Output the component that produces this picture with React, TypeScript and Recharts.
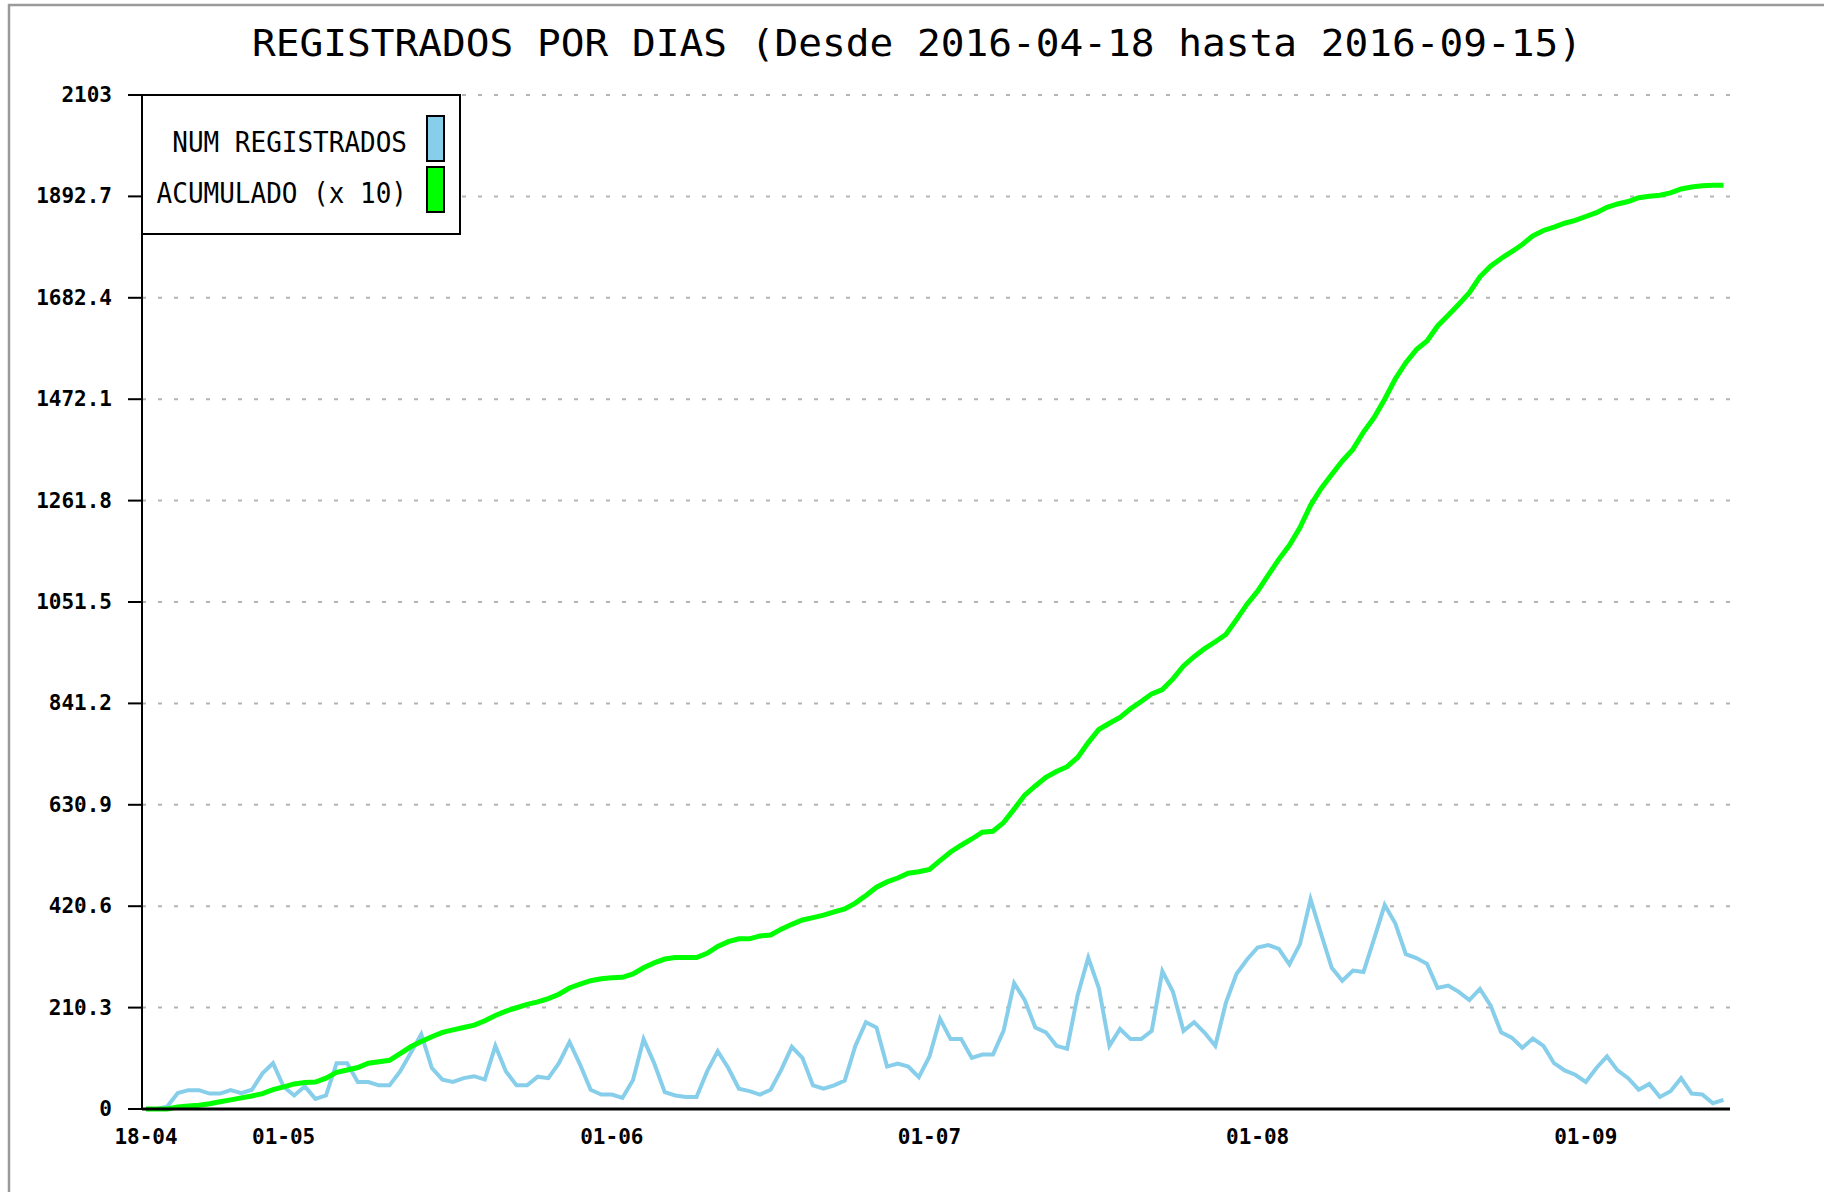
import React from 'react';
import { LineChart, Line, XAxis, YAxis, CartesianGrid } from 'recharts';

const titulo = 'REGISTRADOS POR DIAS (Desde 2016-04-18 hasta 2016-09-15)';
const serieNombres = ['NUM REGISTRADOS', 'ACUMULADO (x 10)'];
const serieColores = ['#87ceeb', '#00ff00'];

// one value per day, starting 2016-04-18
const numRegistrados = [
  0, 0, 5, 33, 39, 39, 32, 32, 39, 33,
  40, 74, 95, 46, 28, 47, 21, 28, 95, 95,
  56, 56, 49, 49, 78, 116, 155, 85, 61, 56,
  64, 68, 61, 131, 78, 49, 49, 67, 64, 95,
  139, 92, 40, 30, 30, 23, 60, 145, 95, 35,
  28, 25, 25, 78, 120, 85, 42, 37, 30, 40,
  81, 129, 106, 49, 42, 49, 59, 131, 180, 169,
  88, 94, 88, 66, 109, 187, 145, 145, 106, 113,
  113, 162, 261, 226, 169, 159, 131, 125, 236, 314,
  251, 131, 166, 145, 145, 162, 286, 243, 162, 180,
  158, 131, 220, 280, 310, 335, 340, 332, 300, 342,
  435, 363, 293, 266, 287, 284, 353, 423, 385, 321,
  313, 301, 251, 256, 243, 226, 249, 215, 159, 148,
  127, 146, 131, 95, 80, 71, 56, 85, 109, 80,
  64, 40, 52, 25, 37, 64, 32, 30, 12, 19,
];

const acumuladoX10 = [
  0, 0, 0, 4, 6, 8, 11, 15, 19, 23,
  27, 32, 40, 46, 52, 55, 56, 64, 76, 81,
  86, 95, 98, 101, 115, 129, 140, 150, 159, 164,
  169, 174, 183, 194, 203, 210, 217, 222, 229, 238,
  251, 259, 266, 270, 272, 273, 280, 293, 303, 311,
  314, 314, 314, 323, 337, 347, 353, 353, 359, 361,
  373, 383, 392, 397, 402, 409, 415, 427, 443, 460,
  471, 479, 489, 492, 497, 515, 533, 547, 560, 574,
  576, 594, 622, 651, 670, 688, 700, 710, 729, 760,
  787, 800, 812, 830, 845, 861, 870, 892, 919, 938,
  955, 969, 984, 1015, 1047, 1074, 1107, 1140, 1169, 1206,
  1252, 1287, 1316, 1344, 1368, 1404, 1434, 1472, 1514, 1548,
  1575, 1593, 1624, 1646, 1669, 1693, 1726, 1748, 1764, 1778,
  1793, 1811, 1822, 1829, 1837, 1843, 1851, 1859, 1870, 1877,
  1882, 1890, 1893, 1895, 1900, 1908, 1912, 1915, 1916, 1916,
];

const xTickDias = [0, 13, 44, 74, 105, 136];
const xTickEtiquetas = ['18-04', '01-05', '01-06', '01-07', '01-08', '01-09'];
const yTicks = [0, 210.3, 420.6, 630.9, 841.2, 1051.5, 1261.8, 1472.1, 1682.4, 1892.7, 2103];

const data = numRegistrados.map((v, i) => ({
  dia: i,
  registrados: v,
  acumulado: acumuladoX10[i],
}));

const MONO = '"DejaVu Sans Mono", "Liberation Mono", monospace';

const YTick = (props: any) => {
  const { x, y, payload } = props;
  return (
    <text x={x} y={y} textAnchor="end" dominantBaseline="central" fontFamily={MONO} fontWeight="bold" fontSize={21} fill="#000">
      {String(payload.value)}
    </text>
  );
};

const XTick = (props: any) => {
  const { x, y, payload } = props;
  const idx = xTickDias.indexOf(payload.value);
  return (
    <text x={x} y={y + 28} textAnchor="middle" dominantBaseline="central" fontFamily={MONO} fontWeight="bold" fontSize={21} fill="#000">
      {idx >= 0 ? xTickEtiquetas[idx] : ''}
    </text>
  );
};

export default function App() {
  return (
    <div style={{ position: 'fixed', left: 0, top: 0, width: 1824, height: 1192, overflow: 'hidden', background: '#fff' }}>
      <div style={{ position: 'absolute', left: 0, top: 0 }}>
        <LineChart width={1824} height={1192} data={data} margin={{ top: 95, right: 94, bottom: 33, left: 0 }}>
          <CartesianGrid
            horizontal
            vertical={false}
            stroke="#b4b4b4"
            strokeWidth={2}
            strokeDasharray="4 12"
          />
          <XAxis
            dataKey="dia"
            type="number"
            domain={[-0.38, 149.62]}
            allowDataOverflow
            ticks={xTickDias}
            interval={0}
            height={50}
            tickSize={0}
            tickMargin={0}
            tickLine={false}
            axisLine={{ stroke: '#000', strokeWidth: 3 }}
            tick={<XTick />}
          />
          <YAxis
            type="number"
            domain={[0, 2103]}
            ticks={yTicks}
            interval={0}
            width={142}
            tickSize={14}
            tickMargin={16}
            tickLine={{ stroke: '#000', strokeWidth: 2 }}
            axisLine={{ stroke: '#000', strokeWidth: 2 }}
            tick={<YTick />}
          />
          <YAxis
            yAxisId="r"
            orientation="right"
            type="number"
            domain={[0, 2103]}
            width={0}
            tick={false}
            tickLine={false}
            axisLine={{ stroke: '#000', strokeWidth: 2.5 }}
          />
          <Line
            type="linear"
            dataKey="registrados"
            name={serieNombres[0]}
            stroke={serieColores[0]}
            strokeWidth={4}
            dot={false}
            isAnimationActive={false}
          />
          <Line
            type="linear"
            dataKey="acumulado"
            name={serieNombres[1]}
            stroke={serieColores[1]}
            strokeWidth={5}
            dot={false}
            isAnimationActive={false}
          />
        </LineChart>
      </div>
      <svg
        width={1824}
        height={1192}
        style={{ position: 'absolute', left: 0, top: 0, pointerEvents: 'none' }}
      >
        <line x1={8} y1={5} x2={1824} y2={5} stroke="#9a9a9a" strokeWidth={2.5} />
        <line x1={9} y1={4} x2={9} y2={1192} stroke="#9a9a9a" strokeWidth={2.5} />
        <text
          x={917}
          y={43}
          textAnchor="middle"
          dominantBaseline="central"
          fontFamily={MONO}
          fontSize={38}
          textLength={1330}
          lengthAdjust="spacingAndGlyphs"
          fill="#000"
        >
          {titulo}
        </text>
        <rect x={142} y={95} width={318} height={139} fill="#fff" stroke="#000" strokeWidth={2} />
        {serieNombres.map((n, i) => (
          <g key={n}>
            <text
              x={407}
              y={142 + i * 51}
              textAnchor="end"
              dominantBaseline="central"
              fontFamily={MONO}
              fontSize={28}
              textLength={n.length * 15.65}
              lengthAdjust="spacingAndGlyphs"
              fill="#000"
            >
              {n}
            </text>
            <rect x={427} y={116 + i * 51} width={17} height={45} fill={serieColores[i]} stroke="#000" strokeWidth={2} />
          </g>
        ))}
      </svg>
    </div>
  );
}
